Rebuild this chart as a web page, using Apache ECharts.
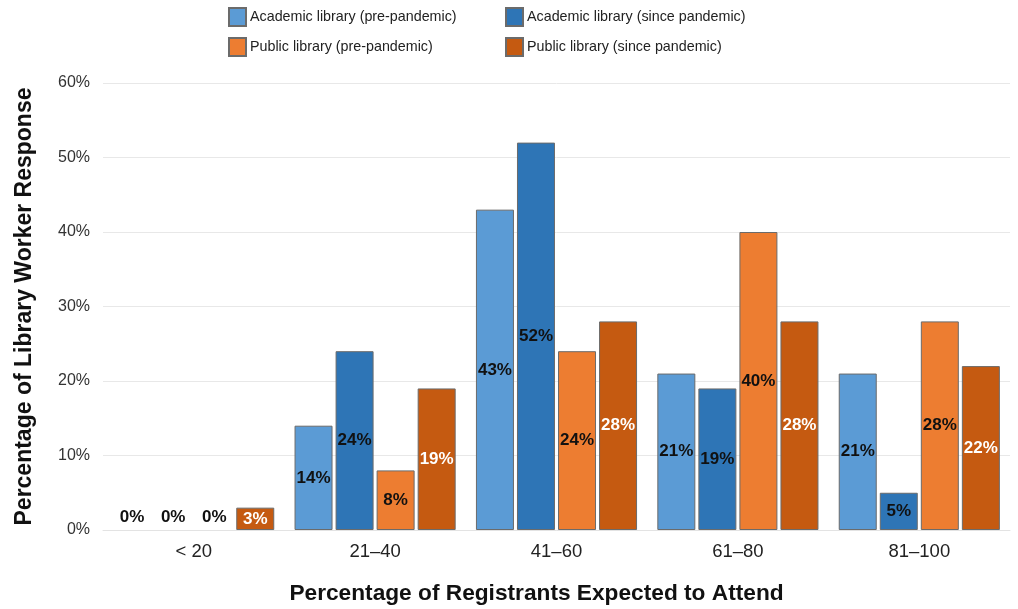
<!DOCTYPE html>
<html>
<head>
<meta charset="utf-8">
<script src="https://cdn.jsdelivr.net/npm/echarts@6/dist/echarts.min.js"></script>
<style>
  html, body { margin: 0; padding: 0; background: #fff; }
  #chart { width: 1018px; height: 609px; }
</style>
</head>
<body>
<div id="chart"></div>
<script>
// Attendance categories and survey responses (% of library workers)
const categories = ['< 20', '21\u201340', '41\u201360', '61\u201380', '81\u2013100'];
const academicPre = [0, 14, 43, 21, 21];
const academicSince = [0, 24, 52, 19, 5];
const publicPre = [0, 8, 24, 40, 28];
const publicSince = [3, 19, 28, 28, 22];
const yTicks = [0, 10, 20, 30, 40, 50, 60];

const seriesNames = [
  'Academic library (pre-pandemic)',
  'Academic library (since pandemic)',
  'Public library (pre-pandemic)',
  'Public library (since pandemic)'
];
const colors = ['#5B9BD5', '#2E75B6', '#ED7D31', '#C55A11'];
const labelColors = ['#111', '#111', '#111', '#fff'];
const FONT = '"Liberation Sans", Arial, Helvetica, sans-serif';

function makeSeries(name, values, idx) {
  return {
    name: name,
    type: 'bar',
    barWidth: 38,
    barGap: '8%',
    itemStyle: { color: colors[idx], borderColor: '#6b6b6b', borderWidth: 1 },
    label: {
      show: true,
      position: 'inside',
      formatter: p => p.value + '%',
      color: labelColors[idx],
      fontFamily: FONT,
      fontWeight: 'bold',
      fontSize: 17
    },
    data: values.map(v => v === 0
      ? {
          value: v,
          itemStyle: { borderWidth: 0, borderColor: 'transparent', color: 'transparent' },
          label: { position: 'top', distance: 4, color: '#111' }
        }
      : v)
  };
}

const chart = echarts.init(document.getElementById('chart'), null, { renderer: 'canvas' });

// Legend laid out as a 2 x 2 grid, one legend per entry
const legendPos = [[223, 2], [500, 2], [223, 32], [500, 32]];
const legends = seriesNames.map((name, i) => ({
  left: legendPos[i][0],
  top: legendPos[i][1],
  data: [name],
  itemWidth: 17,
  itemHeight: 18,
  itemGap: 0,
  icon: 'rect',
  textStyle: { fontFamily: FONT, fontSize: 14.3, color: '#222', padding: [0, 0, 0, -1] }
}));

chart.setOption({
  animation: false,
  textStyle: { fontFamily: FONT },
  legend: legends,
  grid: { left: 103, right: 8, top: 83, bottom: 79, outerBoundsMode: 'none', containLabel: false },
  xAxis: {
    type: 'category',
    data: categories,
    axisTick: { show: false },
    axisLine: { lineStyle: { color: '#e3e3e3' } },
    axisLabel: { fontFamily: FONT, fontSize: 18.5, color: '#222', margin: 12 },
    name: 'Percentage of Registrants Expected to Attend',
    nameLocation: 'middle',
    nameGap: 52,
    nameTextStyle: {
      fontFamily: FONT, fontSize: 22.7, fontWeight: 'bold', color: '#111',
      padding: [0, 40, 0, 0]
    }
  },
  yAxis: {
    type: 'value',
    min: yTicks[0],
    max: yTicks[yTicks.length - 1],
    interval: 10,
    axisLabel: { formatter: '{value}%', fontFamily: FONT, fontSize: 16, color: '#333', margin: 13 },
    splitLine: { lineStyle: { color: '#e8e8e8' } },
    name: 'Percentage of Library Worker Response',
    nameLocation: 'middle',
    nameGap: 67,
    nameTextStyle: { fontFamily: FONT, fontSize: 23, fontWeight: 'bold', color: '#111' }
  },
  series: [
    makeSeries(seriesNames[0], academicPre, 0),
    makeSeries(seriesNames[1], academicSince, 1),
    makeSeries(seriesNames[2], publicPre, 2),
    makeSeries(seriesNames[3], publicSince, 3)
  ]
});
</script>
</body>
</html>
